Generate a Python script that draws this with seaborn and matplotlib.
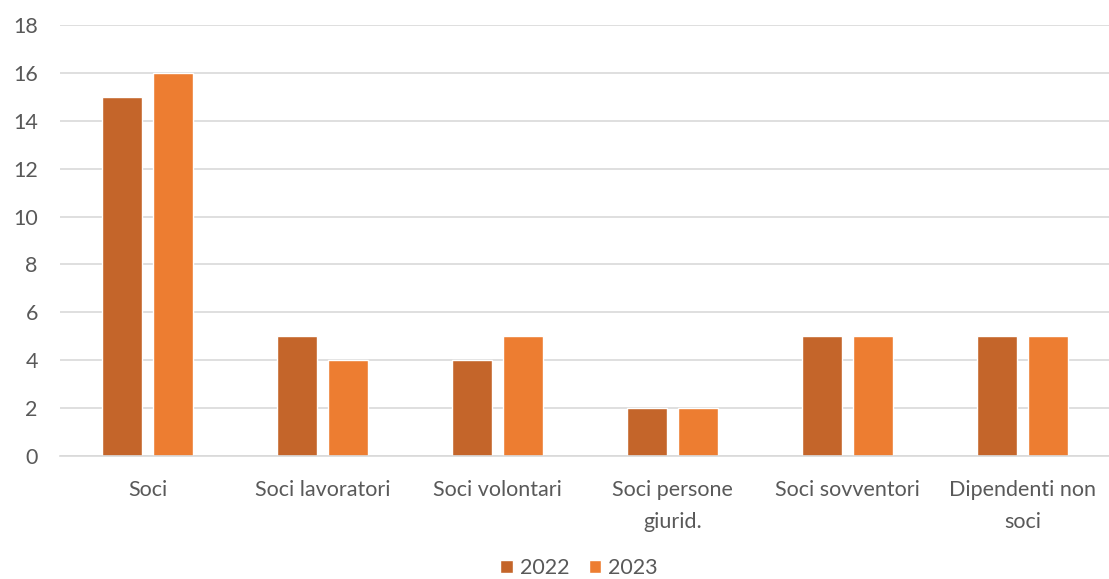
import matplotlib
matplotlib.use("Agg")
import matplotlib.pyplot as plt
import seaborn as sns
import pandas as pd

categories = ["Soci", "Soci lavoratori", "Soci volontari", "Soci persone\ngiurid.",
              "Soci sovventori", "Dipendenti non\nsoci"]
values_2022 = [15, 5, 4, 2, 5, 5]
values_2023 = [16, 4, 5, 2, 5, 5]
years = ["2022", "2023"]
colors = ["#C4652A", "#ED7D31"]

df = pd.DataFrame({
    "cat": categories * 2,
    "val": values_2022 + values_2023,
    "year": [years[0]] * len(categories) + [years[1]] * len(categories),
})

sns.set_theme(style="white")
plt.rcParams["font.family"] = ["Lato", "DejaVu Sans"]

fig = plt.figure(figsize=(11.09, 5.79), dpi=100)
ax = fig.add_axes([60 / 1109, 1 - 456 / 579, 1050 / 1109, (456 - 25) / 579])

sns.barplot(data=df, x="cat", y="val", hue="year", palette=colors, saturation=1,
            width=0.583, gap=0.235, ax=ax, legend=True)

ax.set_ylim(0, 18)
ax.set_yticks(range(0, 19, 2))
ax.set_xlim(-0.5, len(categories) - 0.5)
ax.yaxis.grid(True, color="#D9D9D9", linewidth=1.2)
ax.set_axisbelow(True)
for s in ["top", "right", "left"]:
    ax.spines[s].set_visible(False)
ax.spines["bottom"].set_color("#D9D9D9")
ax.spines["bottom"].set_linewidth(1.2)
ax.set_xlabel("")
ax.set_ylabel("")
ax.tick_params(axis="both", length=0, labelsize=15.5, labelcolor="#595959")
ax.tick_params(axis="y", pad=16)
ax.tick_params(axis="x", pad=17)

handles, labels = ax.get_legend_handles_labels()
ax.legend_.remove()
fig.legend(handles, labels, loc="center", bbox_to_anchor=(0.522, 1 - 568 / 579),
           ncol=2, frameon=False, fontsize=15.5, labelcolor="#595959",
           handlelength=0.6, handleheight=0.6, handletextpad=0.3, columnspacing=0.9)

fig.canvas.draw()
for t in ax.get_xticklabels():
    t.set_linespacing(1.75)

fig.savefig("out.png", dpi=100)
